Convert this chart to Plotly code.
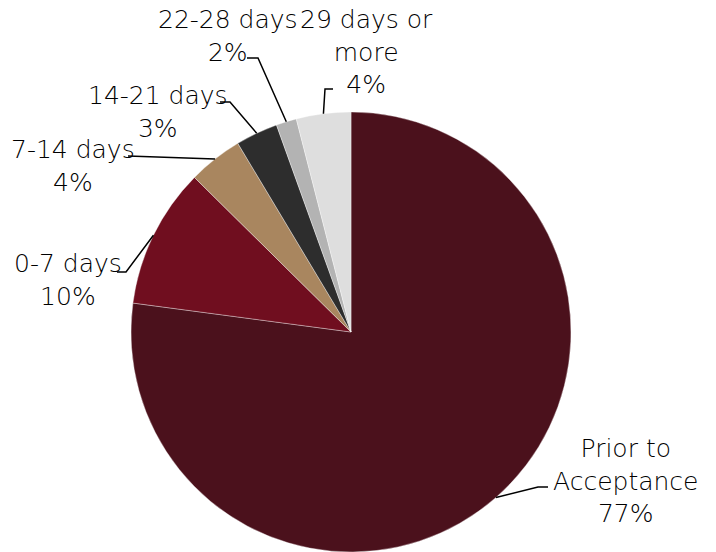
import math
import plotly.graph_objects as go

# ---- data ----
categories = ["Prior to<br>Acceptance", "0-7 days", "7-14 days", "14-21 days",
              "22-28 days", "29 days or<br>more"]
values = [77.1, 10.3, 4.0, 3.1, 1.5, 4.0]
colors = ["#4B111C", "#700E1F", "#A9865F", "#2D2D2D", "#B3B3B3", "#DEDEDE"]

# ---- layout (pixels) ----
W, H = 716, 552
CX, CY, R = 351, 332, 220
# label centre, elbow point, end point for each slice
label_pos = [(626, 481), (68, 280), (73, 166), (158, 112), (228, 36), (366, 52)]
elbows = [(538, 487), (126, 272), (128, 156), (230, 102), (258, 58), (325, 89)]
ends = [(548, 487), (117, 272), (128, 156), (220, 102), (247, 58), (333, 89)]

fig = go.Figure(go.Pie(
    labels=categories, values=values, sort=False, direction="clockwise",
    rotation=0, textinfo="none", hoverinfo="label+percent",
    marker=dict(colors=colors, line=dict(color="rgba(255,255,255,0.6)", width=0.6)),
    domain=dict(x=[(CX - R) / W, (CX + R) / W], y=[(H - CY - R) / H, (H - CY + R) / H]),
    showlegend=False,
))

def px(x, y):
    return x / W, 1 - y / H

total = sum(values)
cum = 0.0
shapes, annos = [], []
for i, v in enumerate(values):
    mid = (cum + v / 2) / total * 2 * math.pi
    cum += v
    sx = CX + R * math.sin(mid)
    sy = CY - R * math.cos(mid)
    pts = [px(sx, sy), px(*elbows[i]), px(*ends[i])]
    path = "M {} {} L {} {} L {} {}".format(*[c for p in pts for c in p])
    shapes.append(dict(type="path", path=path, xref="paper", yref="paper",
                       line=dict(color="black", width=1.5)))
    pct = int(math.floor(v / total * 100 + 0.5))
    lx, ly = px(*label_pos[i])
    annos.append(dict(x=lx, y=ly, xref="paper", yref="paper", showarrow=False,
                      text=f"{categories[i]}<br>{pct}%", align="center",
                      xanchor="center", yanchor="middle",
                      font=dict(family="DejaVu Sans", size=25, color="#000000",
                                weight=300)))

fig.update_layout(width=W, height=H, margin=dict(l=0, r=0, t=0, b=0),
                  paper_bgcolor="white", plot_bgcolor="white",
                  shapes=shapes, annotations=annos)
fig.write_html("out.html", config={"displayModeBar": False},
               post_script="document.body.style.margin='0';document.body.style.padding='0';")
